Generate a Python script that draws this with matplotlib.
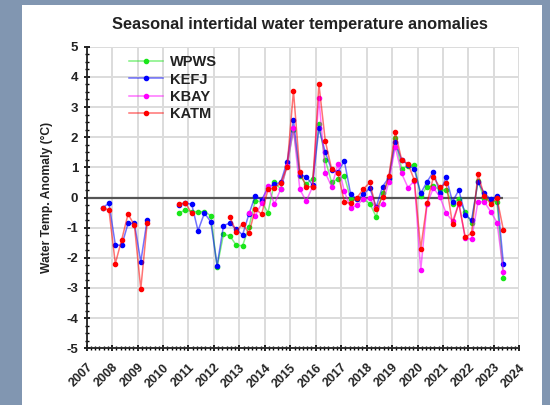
import matplotlib
matplotlib.use('Agg')
import matplotlib.pyplot as plt
import numpy as np
from matplotlib.ticker import MultipleLocator
from matplotlib.patches import Rectangle
from matplotlib.colors import to_rgba

nan = np.nan

# seasonal samples, one every quarter starting in late summer 2007
first_season = 2007.625
season_step = 0.25

wpws = [nan, nan, nan, nan, nan, nan, nan, nan,
        nan, nan, nan, nan,
        -0.52, -0.41, -0.47, -0.47, -0.47, -0.60, -2.30, -1.22,
        -1.27, -1.58, -1.60, -0.98, -0.10, -0.15, -0.50, 0.50, 0.28, 1.05,
        2.25, 0.72, 0.45, 0.62, 2.45, 1.25, 0.50, 0.62, 0.71, -0.05,
        -0.05, -0.05, -0.20, -0.64, 0.15, 0.60, 1.96, 0.95, 1.05, 1.08,
        0.05, 0.36, 0.38, 0.25, 0.25, -0.20, -0.05, -0.47, -0.85, 0.55,
        -0.05, -0.10, -0.15, -2.68]

kefj = [-0.34, -0.19, -1.57, -1.59, -0.86, -0.86, -2.13, -0.75,
        nan, nan, nan, nan,
        -0.24, -0.19, -0.22, -1.10, -0.52, -0.80, -2.26, -0.93,
        -0.85, -1.05, -1.24, -0.55, 0.06, -0.08, 0.33, 0.44, 0.50, 1.19,
        2.57, 0.75, 0.69, 0.42, 2.29, 1.50, 0.92, 0.85, 1.21, 0.10,
        -0.05, 0.10, 0.32, -0.32, 0.36, 0.66, 1.83, 1.25, 1.08, 0.94,
        0.14, 0.52, 0.86, 0.14, 0.67, -0.14, 0.25, -0.58, -0.75, 0.52,
        0.14, -0.06, 0.05, -2.20]

kbay = [nan, nan, nan, nan, nan, nan, nan, nan,
        nan, nan, nan, nan,
        nan, nan, nan, nan, nan, nan, nan, nan,
        nan, nan, nan, -0.52, -0.60, -0.19, 0.38, -0.22, 0.28, 1.05,
        2.29, 0.27, -0.12, 0.35, 3.29, 0.82, 0.36, 1.10, 0.20, -0.34,
        -0.26, -0.05, -0.03, -0.35, -0.22, 0.52, 1.68, 0.80, 0.33, 0.55,
        -2.42, -0.22, 0.32, 0.03, -0.52, -0.78, -0.20, -1.35, -1.38, -0.14,
        -0.14, -0.47, -0.83, -2.46]

katm = [-0.34, -0.42, -2.19, -1.40, -0.55, -0.92, -3.03, -0.86,
        nan, nan, nan, nan,
        -0.22, -0.17, -0.53, nan, nan, nan, nan, nan,
        -0.65, -1.13, -0.87, -1.19, -0.38, -0.55, 0.27, 0.32, 0.48, 1.02,
        3.53, 0.86, 0.35, 0.36, 3.76, 1.88, 0.94, 0.82, -0.16, -0.19,
        0.00, 0.28, 0.50, -0.38, 0.02, 0.72, 2.18, 1.25, 1.12, 0.58,
        -1.70, -0.18, 0.68, 0.34, 0.47, -0.88, -0.19, -1.32, -1.18, 0.78,
        0.05, -0.20, -0.03, -1.08]

series_names = ['WPWS', 'KEFJ', 'KBAY', 'KATM']
series_colors = ['#19e619', '#0000ff', '#ff00ff', '#ff0000']
years = list(range(2007, 2025))


def main():
    plt.rcParams['font.family'] = ['Liberation Sans', 'DejaVu Sans']
    plt.rcParams['font.weight'] = 'bold'

    fig = plt.figure(figsize=(5.5, 4.05), dpi=100, facecolor='#8196b1')
    # white card behind the chart
    fig.patches.append(Rectangle((22 / 550, 0), 520 / 550, 1 - 5 / 405,
                                 transform=fig.transFigure, facecolor='white',
                                 edgecolor='none', zorder=-5))
    ax = fig.add_axes([86.7 / 550, 1 - 348.3 / 405, 432.6 / 550, 301.6 / 405])
    ax.set_zorder(2)
    ax.set_facecolor('white')

    t = first_season + season_step * np.arange(len(katm))

    ax.hlines(0, years[0], t[-1], color='#555555', lw=1.6, zorder=2)

    for name, vals, c in zip(series_names, [wpws, kefj, kbay, katm], series_colors):
        ax.plot(t, vals, '-o', color=to_rgba(c, 0.55), lw=1.1, ms=3.0,
                mfc=c, mec=c, label=name, zorder=3)

    ax.set_xlim(years[0], years[-1])
    ax.set_ylim(-5, 5)
    ax.set_xticks(years)
    ax.set_xticklabels([str(y) for y in years], rotation=45, ha='right',
                       rotation_mode='anchor', fontsize=9, fontweight='bold',
                       color='#222222')
    ax.set_yticks(range(-5, 6))
    ax.set_yticklabels([str(v) for v in range(-5, 6)], fontsize=9.5,
                       fontweight='bold', color='#222222')
    ax.xaxis.set_minor_locator(MultipleLocator(1 / 6))
    ax.yaxis.set_minor_locator(MultipleLocator(0.25))
    ax.tick_params(which='major', direction='inout', length=5, width=1.2)
    ax.tick_params(axis='x', which='major', pad=7)
    ax.tick_params(which='minor', direction='inout', length=2.5, width=1)
    ax.grid(True, which='major', color='#dcdcdc', lw=1.4, zorder=0)
    ax.set_axisbelow(True)
    for s in ['top', 'right']:
        ax.spines[s].set_visible(False)
    for s in ['left', 'bottom']:
        ax.spines[s].set_linewidth(1.3)
        ax.spines[s].set_color('#222222')

    ax.set_ylabel('Water Temp. Anomaly (°C)', fontsize=8.7, fontweight='bold',
                  labelpad=10, color='#222222')
    fig.text(300 / 550, 1 - 25 / 405, 'Seasonal intertidal water temperature anomalies',
             ha='center', va='center', fontsize=11.8, fontweight='bold', color='#222222')

    ax.legend(loc='upper left', bbox_to_anchor=(0.068, 1.015), frameon=False,
              numpoints=1, handlelength=2.3, handletextpad=0.5,
              labelspacing=0.22, prop={'size': 10.5, 'weight': 'bold'},
              labelcolor='#222222')

    fig.savefig('out.png', dpi=100, facecolor=fig.get_facecolor())


if __name__ == "__main__":
    main()
